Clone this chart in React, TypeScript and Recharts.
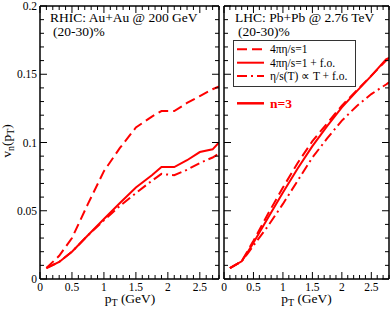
import React from 'react';
import { LineChart, Line, XAxis, YAxis } from 'recharts';

// RHIC Au+Au 200 GeV, (20-30)%
const ptRhic = [0.1, 0.3, 0.5, 0.75, 1.0, 1.25, 1.5, 1.75, 1.9, 2.1, 2.3, 2.5, 2.7, 2.8];
const rhicIdeal = [0.008, 0.017, 0.03, 0.055, 0.079, 0.096, 0.111, 0.119, 0.123, 0.123, 0.129, 0.134, 0.139, 0.141];
const rhicFo = [0.008, 0.0125, 0.02, 0.032, 0.044, 0.0557, 0.067, 0.076, 0.082, 0.082, 0.087, 0.093, 0.095, 0.1];
const rhicTdep = [0.008, 0.0125, 0.02, 0.032, 0.043, 0.0535, 0.063, 0.072, 0.077, 0.076, 0.08, 0.085, 0.089, 0.092];

// LHC Pb+Pb 2.76 TeV, (20-30)%
const ptLhc = [0.1, 0.3, 0.4, 0.5, 0.75, 1.0, 1.25, 1.5, 1.75, 2.0, 2.25, 2.5, 2.75, 2.8];
const lhcIdeal = [0.008, 0.013, 0.0205, 0.028, 0.048, 0.067, 0.085, 0.101, 0.114, 0.127, 0.138, 0.149, 0.16, 0.162];
const lhcFo = [0.008, 0.013, 0.0195, 0.0265, 0.045, 0.0634, 0.081, 0.0973, 0.112, 0.1257, 0.1375, 0.1488, 0.161, 0.162];
const lhcTdep = [0.008, 0.013, 0.0185, 0.0245, 0.039, 0.055, 0.072, 0.089, 0.103, 0.116, 0.1266, 0.1355, 0.1425, 0.144];

const xMajor = [0, 0.5, 1, 1.5, 2, 2.5];
const yMajor = [0, 0.05, 0.1, 0.15, 0.2];

const legendNames = ['4πη/s=1', '4πη/s=1 + f.o.', 'η/s(T) ∝ T + f.o.'];

// minor ticks every 0.1 in pT and 0.01 in v_n
const xTicks: number[] = [];
for (let i = 0; i <= 28; i++) xTicks.push(i / 10);
const yTicks: number[] = [];
for (let i = 0; i <= 20; i++) yTicks.push(i / 100);

const rhicData = ptRhic.map((pt, i) => ({ pt, ideal: rhicIdeal[i], fo: rhicFo[i], tdep: rhicTdep[i] }));
const lhcData = ptLhc.map((pt, i) => ({ pt, ideal: lhcIdeal[i], fo: lhcFo[i], tdep: lhcTdep[i] }));

const RED = '#ff0000';
const FONT = '"Liberation Serif", "Times New Roman", serif';
const DASH = '10 5';
const DASHDOT = '10 4 2 4';

const isMajor = (list: number[], v: number) => list.some((m) => Math.abs(m - v) < 1e-6);

function XTick(props: any) {
  const { x, y, payload, side, showLabel } = props;
  const v = payload.value;
  const major = isMajor(xMajor, v);
  const len = major ? 7 : 4;
  const y2 = side === 'top' ? y + len : y - len;
  return (
    <g>
      <line x1={x} x2={x} y1={y} y2={y2} stroke="#000" strokeWidth={1} />
      {showLabel && major && (
        <text x={x} y={y + 12} textAnchor="middle" style={{ fontFamily: FONT, fontSize: 11.5 }} fill="#000">
          {String(v)}
        </text>
      )}
    </g>
  );
}

function YTick(props: any) {
  const { x, y, payload, side, showLabel } = props;
  const v = payload.value;
  const major = isMajor(yMajor, v);
  const len = major ? 7 : 4;
  const x2 = side === 'right' ? x - len : x + len;
  return (
    <g>
      <line x1={x} x2={x2} y1={y} y2={y} stroke="#000" strokeWidth={1} />
      {showLabel && major && (
        <text x={x - 3} y={y + 4} textAnchor="end" style={{ fontFamily: FONT, fontSize: 11.5 }} fill="#000">
          {String(v)}
        </text>
      )}
    </g>
  );
}

const axisLine = { stroke: '#000', strokeWidth: 1.5 };

function Panel({ data, width, margin, yLabels }: any) {
  return (
    <LineChart width={width} height={309} data={data} margin={margin}>
      <XAxis
        xAxisId="b"
        type="number"
        dataKey="pt"
        domain={[0, 2.8]}
        allowDataOverflow
        ticks={xTicks}
        interval={0}
        tickSize={0}
        tickMargin={0}
        tickLine={false}
        axisLine={axisLine}
        height={30}
        tick={(p: any) => <XTick {...p} side="bottom" showLabel />}
      />
      <XAxis
        xAxisId="t"
        orientation="top"
        type="number"
        dataKey="pt"
        domain={[0, 2.8]}
        allowDataOverflow
        ticks={xTicks}
        interval={0}
        tickSize={0}
        tickMargin={0}
        tickLine={false}
        axisLine={axisLine}
        height={1}
        tick={(p: any) => <XTick {...p} side="top" />}
      />
      <YAxis
        yAxisId="l"
        type="number"
        domain={[0, 0.2]}
        allowDataOverflow
        ticks={yTicks}
        interval={0}
        tickSize={0}
        tickMargin={0}
        tickLine={false}
        axisLine={axisLine}
        width={yLabels ? 40 : 1}
        tick={(p: any) => <YTick {...p} side="left" showLabel={yLabels} />}
      />
      <YAxis
        yAxisId="r"
        orientation="right"
        type="number"
        domain={[0, 0.2]}
        allowDataOverflow
        ticks={yTicks}
        interval={0}
        tickSize={0}
        tickMargin={0}
        tickLine={false}
        axisLine={axisLine}
        width={1}
        tick={(p: any) => <YTick {...p} side="right" />}
      />
      <Line xAxisId="b" yAxisId="l" type="linear" dataKey="ideal" stroke={RED} strokeWidth={2} strokeDasharray={DASH} dot={false} isAnimationActive={false} />
      <Line xAxisId="b" yAxisId="l" type="linear" dataKey="fo" stroke={RED} strokeWidth={2} dot={false} isAnimationActive={false} />
      <Line xAxisId="b" yAxisId="l" type="linear" dataKey="tdep" stroke={RED} strokeWidth={2} strokeDasharray={DASHDOT} dot={false} isAnimationActive={false} />
    </LineChart>
  );
}

function PtTitle({ cx }: { cx: number }) {
  return (
    <text x={cx} y={303} textAnchor="middle" style={{ fontFamily: FONT, fontSize: 13.5 }} fill="#000">
      p<tspan dy={3} style={{ fontSize: 10 }}>T</tspan>
      <tspan dy={-3}> (GeV)</tspan>
    </text>
  );
}

export default function App() {
  const dashes = [DASH, undefined, DASHDOT];
  const txt = { fontFamily: FONT, fontSize: 13.5 };
  return (
    <div style={{ position: 'absolute', left: 0, top: 0, width: 391, height: 309, background: '#fff' }}>
      <div style={{ position: 'absolute', left: 0, top: 0 }}>
        <Panel data={rhicData} width={221} margin={{ top: 5, right: 1, bottom: 0, left: 0 }} yLabels />
      </div>
      <div style={{ position: 'absolute', left: 221, top: 0 }}>
        <Panel data={lhcData} width={170} margin={{ top: 5, right: 1, bottom: 0, left: 2 }} yLabels={false} />
      </div>
      <svg width={391} height={309} style={{ position: 'absolute', left: 0, top: 0, pointerEvents: 'none' }}>
        <text x={50} y={21.5} style={txt} fill="#000">RHIC: Au+Au @ 200 GeV</text>
        <text x={53} y={36} style={txt} fill="#000">(20-30)%</text>
        <text x={235} y={21.5} style={txt} fill="#000">LHC: Pb+Pb @ 2.76 TeV</text>
        <text x={238} y={36} style={txt} fill="#000">(20-30)%</text>

        <rect x={233.5} y={40.5} width={122} height={46} fill="#fff" stroke="#333" strokeWidth={1} />
        {legendNames.map((name, i) => {
          const cy = 49.3 + i * 13.4;
          return (
            <g key={name}>
              <line x1={237} x2={264} y1={cy} y2={cy} stroke={RED} strokeWidth={2} strokeDasharray={dashes[i]} />
              <text x={270} y={cy + 4} style={{ fontFamily: FONT, fontSize: 11.5 }} fill="#000">{name}</text>
            </g>
          );
        })}
        <line x1={237} x2={264} y1={103.3} y2={103.3} stroke={RED} strokeWidth={2.5} />
        <text x={270} y={108} style={{ fontFamily: FONT, fontSize: 13.5, fontWeight: 'bold' }} fill={RED}>n=3</text>

        <PtTitle cx={130} />
        <PtTitle cx={306.5} />
        <text transform="rotate(-90 11 141)" x={11} y={141} textAnchor="middle" style={txt} fill="#000">
          v<tspan dy={3} style={{ fontSize: 10 }}>n</tspan>
          <tspan dy={-3}>(p</tspan>
          <tspan dy={3} style={{ fontSize: 10 }}>T</tspan>
          <tspan dy={-3}>)</tspan>
        </text>
      </svg>
    </div>
  );
}
